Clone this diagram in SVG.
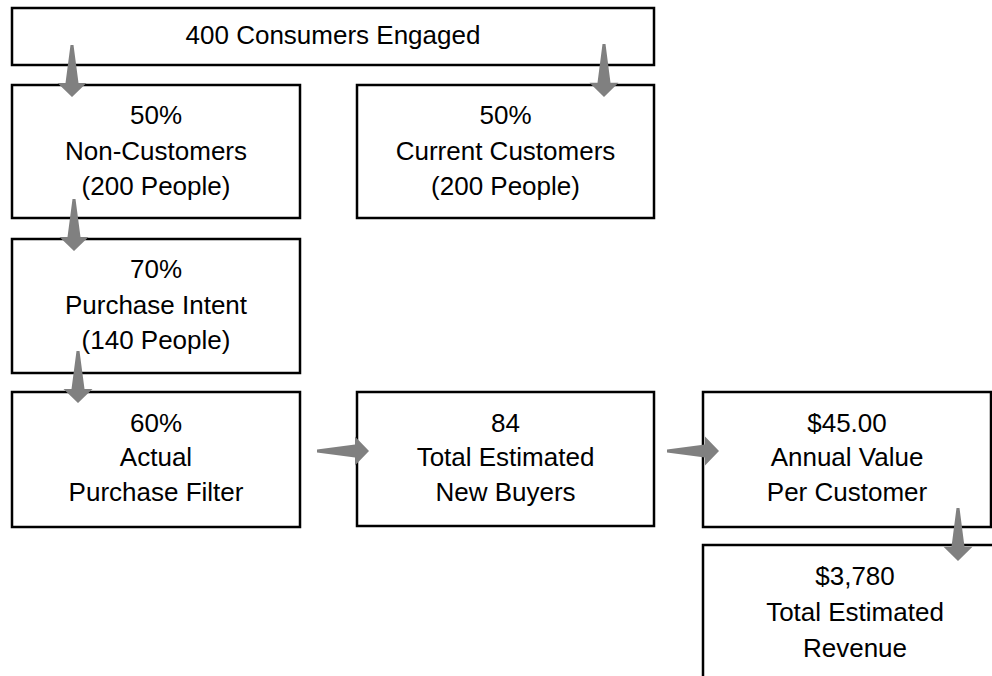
<svg xmlns="http://www.w3.org/2000/svg" width="992" height="676" viewBox="0 0 992 676">
<style>
.box{fill:#fff;stroke:#000;stroke-width:2.5}
.t{font-family:"Liberation Sans",Arial,sans-serif;font-size:26px;fill:#000;text-anchor:middle}
.arr{fill:#808080}
</style>
<defs>
<path id="ad" d="M-1.5,-52 L1.5,-52 L6.5,-14 L14.5,-14 L0,0 L-14.5,-14 L-6.5,-14 Z"/>
</defs>
<rect width="992" height="676" fill="#fff"/>
<g id="n-engaged"><rect class="box" x="12" y="8" width="642" height="57"/><text class="t" x="333" y="44">400 Consumers Engaged</text></g>
<g id="n-noncust"><rect class="box" x="12" y="85" width="288" height="133"/><text class="t" x="156" y="124">50%</text><text class="t" x="156" y="159.5">Non-Customers</text><text class="t" x="156" y="195">(200 People)</text></g>
<g id="n-current"><rect class="box" x="357" y="85" width="297" height="133"/><text class="t" x="505.5" y="124">50%</text><text class="t" x="505.5" y="159.5">Current Customers</text><text class="t" x="505.5" y="195">(200 People)</text></g>
<g id="n-intent"><rect class="box" x="12" y="239" width="288" height="134"/><text class="t" x="156" y="278">70%</text><text class="t" x="156" y="313.5">Purchase Intent</text><text class="t" x="156" y="349">(140 People)</text></g>
<g id="n-filter"><rect class="box" x="12" y="392" width="288" height="135"/><text class="t" x="156" y="431.5">60%</text><text class="t" x="156" y="466">Actual</text><text class="t" x="156" y="500.5">Purchase Filter</text></g>
<g id="n-buyers"><rect class="box" x="357" y="392" width="297" height="134"/><text class="t" x="505.5" y="431.5">84</text><text class="t" x="505.5" y="466">Total Estimated</text><text class="t" x="505.5" y="501">New Buyers</text></g>
<g id="n-value"><rect class="box" x="703" y="392" width="288" height="135"/><text class="t" x="847" y="431.5">$45.00</text><text class="t" x="847" y="466">Annual Value</text><text class="t" x="847" y="501">Per Customer</text></g>
<g id="n-revenue"><rect class="box" x="703" y="545" width="305" height="145"/><text class="t" x="855" y="585">$3,780</text><text class="t" x="855" y="621">Total Estimated</text><text class="t" x="855" y="657">Revenue</text></g>
<g id="connectors" class="arr">
<use href="#ad" transform="translate(72,97)"/>
<use href="#ad" transform="translate(604,97) scale(1,1.02)"/>
<use href="#ad" transform="translate(74,251)"/>
<use href="#ad" transform="translate(78,403)"/>
<use href="#ad" transform="translate(369,451) rotate(-90)"/>
<use href="#ad" transform="translate(719,451) rotate(-90)"/>
<use href="#ad" transform="translate(958,561) scale(1,1.02)"/>
</g>
</svg>
